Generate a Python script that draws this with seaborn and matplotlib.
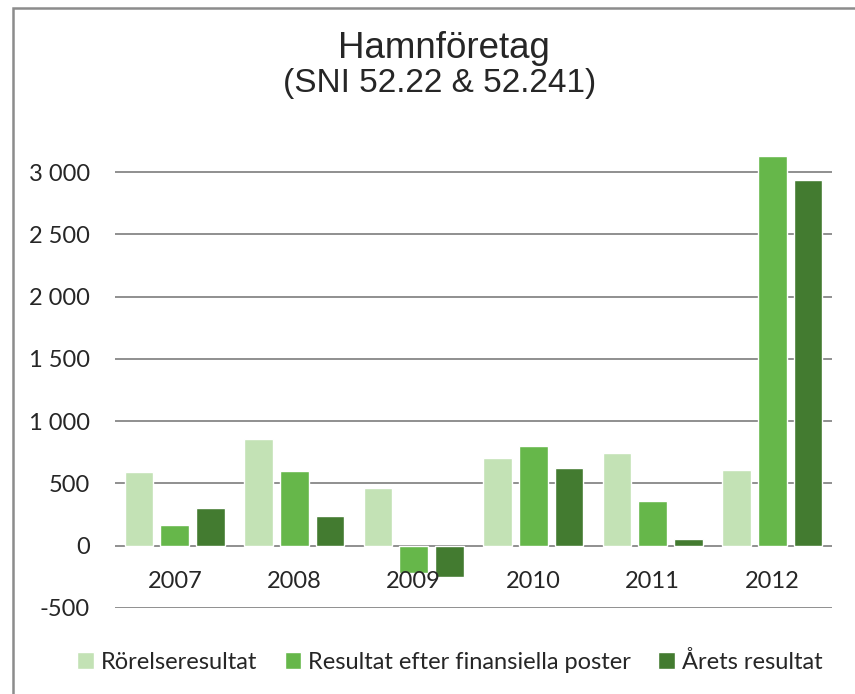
import numpy as np
import pandas as pd
import seaborn as sns
import matplotlib.pyplot as plt
from matplotlib.patches import Patch, Rectangle

# data (tkr-ish, Excel chart)
years = ['2007', '2008', '2009', '2010', '2011', '2012']
rorelse = [595, 860, 465, 705, 745, 605]
efter_fin = [166, 596, -216, 800, 356, 3127]
arets = [304, 240, -253, 628, 56, 2940]
series = ['Rörelseresultat', 'Resultat efter finansiella poster', 'Årets resultat']
colors = ['#C3E2B5', '#66B74A', '#437B30']
yticks = [-500, 0, 500, 1000, 1500, 2000, 2500, 3000]

df = pd.DataFrame({
    'year': years * 3,
    'serie': np.repeat(series, len(years)),
    'value': rorelse + efter_fin + arets,
})

sns.set_style('white')
plt.rcParams['font.family'] = ['Lato', 'DejaVu Sans']

fig = plt.figure(figsize=(8.55, 6.94), dpi=100)
ax = fig.add_axes([115 / 855, 86 / 694, (832 - 115) / 855, 0.673])

sns.barplot(data=df, x='year', y='value', hue='serie', palette=colors,
            width=0.9, gap=0.2, saturation=1, legend=False, ax=ax, zorder=3)

ax.set_xlim(-0.5, 5.5)
ax.set_ylim(-500, 3250)
ax.set_yticks(yticks)
ax.set_yticklabels([f"{v:,}".replace(',', ' ') for v in yticks], fontsize=17)
ax.tick_params(axis='y', length=0, pad=18)
ax.set_xticks([])
ax.set_xlabel('')
ax.set_ylabel('')
ax.yaxis.grid(True, color='#878787', linewidth=1.3)
ax.set_axisbelow(True)
for s in ax.spines.values():
    s.set_visible(False)

# kategorinamn ligger ovanför -500-linjen, som i Excel
for i, y in enumerate(years):
    ax.text(i, -285, y, ha='center', va='center', fontsize=17, zorder=5)

title_font = ['Liberation Sans', 'DejaVu Sans']
fig.text(444 / 855, (694 - 58) / 694, 'Hamnföretag', ha='center',
         va='baseline', fontsize=26.5, family=title_font)
fig.text(440 / 855, (694 - 92) / 694, '(SNI 52.22 & 52.241)', ha='center',
         va='baseline', fontsize=24, family=title_font)

handles = [Patch(facecolor=c, label=s) for c, s in zip(colors, series)]
fig.legend(handles=handles, ncol=3, loc='center',
           bbox_to_anchor=(450 / 855, (694 - 662) / 694), frameon=False,
           fontsize=17, handlelength=0.7, handleheight=0.7,
           handletextpad=0.3, columnspacing=1.15)

# ram runt diagrammet
fig.add_artist(Rectangle((13 / 855, -0.1), 2, (694 - 8) / 694 + 0.1,
                         transform=fig.transFigure, fill=False,
                         edgecolor='#8c8c8c', linewidth=1.8))

fig.savefig('out.png', dpi=100)
